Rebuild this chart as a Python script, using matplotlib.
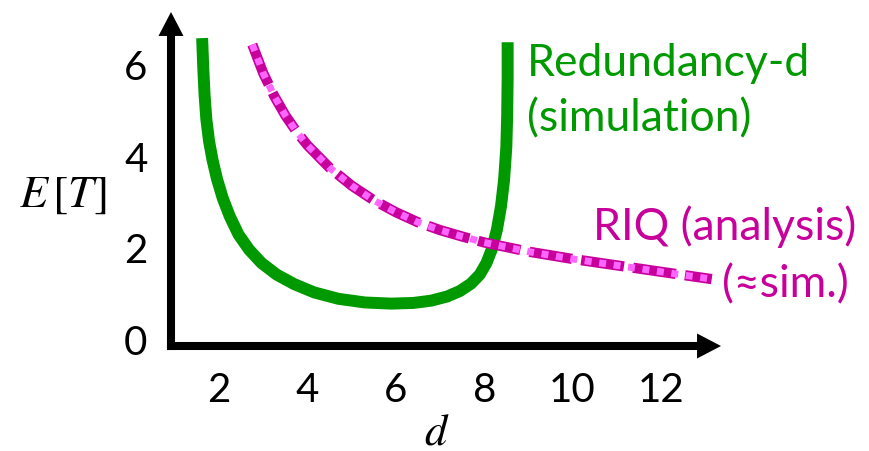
import matplotlib
matplotlib.use('Agg')
import matplotlib.pyplot as plt

# ---- data ----
green_d = [1.615, 1.64, 1.67, 1.71, 1.77, 1.85, 1.95, 2.08, 2.24, 2.44, 2.68, 2.96,
           3.30, 3.70, 4.15, 4.70, 5.30, 5.90, 6.40, 6.80, 7.16, 7.45, 7.70, 7.90,
           8.05, 8.18, 8.29, 8.38, 8.45, 8.50, 8.52, 8.53, 8.53]
green_y = [6.59, 5.95, 5.35, 4.82, 4.35, 3.93, 3.52, 3.10, 2.70, 2.30, 1.97, 1.68,
           1.43, 1.22, 1.04, 0.90, 0.82, 0.795, 0.81, 0.86, 0.95, 1.07, 1.23, 1.43,
           1.68, 2.00, 2.42, 2.92, 3.50, 4.20, 4.90, 5.70, 6.50]

riq_d = [2.75, 3.0, 3.25, 3.5, 3.75, 4.0, 4.5, 5.0, 5.5, 6.0, 6.5, 7.0, 7.5, 8.0,
         9.0, 10.0, 11.0, 12.0, 13.15]
riq_y = [6.45, 5.82, 5.32, 4.90, 4.55, 4.25, 3.76, 3.37, 3.05, 2.79, 2.57, 2.40,
         2.26, 2.13, 1.93, 1.77, 1.63, 1.49, 1.33]

x_ticks = [2, 4, 6, 8, 10, 12]
y_ticks = [0, 2, 4, 6]

GREEN = '#009900'
MAG = '#C8009B'
PINK = '#FF66FF'

plt.rcParams['font.family'] = ['Lato', 'DejaVu Sans']
plt.rcParams['mathtext.fontset'] = 'stix'

W, H = 869, 451
fig = plt.figure(figsize=(W / 100, H / 100), dpi=100)
# axes region in pixels: left 171, right 721, bottom 346, top 12
ax = fig.add_axes([171 / W, 1 - 346 / H, 550 / W, 334 / H])
xmin, xmax = 0.91, 13.36
ymin, ymax = -0.13, 7.16
ax.set_xlim(xmin, xmax)
ax.set_ylim(ymin, ymax)

for s in ['top', 'right']:
    ax.spines[s].set_visible(False)
hx = 23 / 44.2
hy = 23 / 45.8
for s in ['left', 'bottom']:
    ax.spines[s].set_linewidth(5.8)
    ax.spines[s].set_capstyle('projecting')
ax.spines['left'].set_bounds(ymin, ymax - hy)
ax.spines['bottom'].set_bounds(xmin, xmax - hx)

# arrow heads
ap = dict(arrowstyle='-|>,head_length=1.15,head_width=0.6', mutation_scale=15,
          lw=0, color='k', shrinkA=0, shrinkB=0)
ax.annotate('', xy=(xmin, ymax), xytext=(xmin, ymax - hy - 0.05),
            arrowprops=ap, annotation_clip=False)
ax.annotate('', xy=(xmax, ymin), xytext=(xmax - hx - 0.05, ymin),
            arrowprops=ap, annotation_clip=False)

ax.set_xticks(x_ticks)
ax.set_xticklabels([str(v) for v in x_ticks])
ax.set_yticks(y_ticks)
ax.set_yticklabels([str(v) for v in y_ticks])
ax.tick_params(axis='both', length=0, labelsize=29)
ax.tick_params(axis='x', pad=19)
ax.tick_params(axis='y', pad=17)

# curves
ax.plot(green_d, green_y, color=GREEN, lw=8.6, solid_capstyle='butt',
        solid_joinstyle='round', clip_on=False, zorder=3)
ax.plot(riq_d, riq_y, color=MAG, lw=7.4, linestyle=(0, (4.2, 0.9)),
        dash_capstyle='butt', dash_joinstyle='round', clip_on=False, zorder=4)
ax.plot(riq_d, riq_y, color=PINK, lw=5.0, linestyle=(0, (1.0, 1.1)),
        dash_capstyle='butt', dash_joinstyle='round', clip_on=False, zorder=5)

# axis labels
fig.text(63 / W, 1 - 195 / H, r'$E\,[T]$', fontsize=33, ha='center', va='center')
fig.text(437 / W, 1 - 432 / H, r'$d$', fontsize=32, ha='center', va='center')

# annotations
fs = 32
fig.text(527 / W, 1 - 76 / H, 'Redundancy-d', color=GREEN, fontsize=fs,
         ha='left', va='baseline')
fig.text(527 / W, 1 - 131 / H, '(simulation)', color=GREEN, fontsize=fs,
         ha='left', va='baseline')
fig.text(593 / W, 1 - 240 / H, 'RIQ (analysis)', color=MAG, fontsize=fs,
         ha='left', va='baseline')
fig.text(722 / W, 1 - 297 / H, '(\u2248sim.)', color=MAG, fontsize=fs,
         ha='left', va='baseline')

fig.savefig('out.png', dpi=100)
